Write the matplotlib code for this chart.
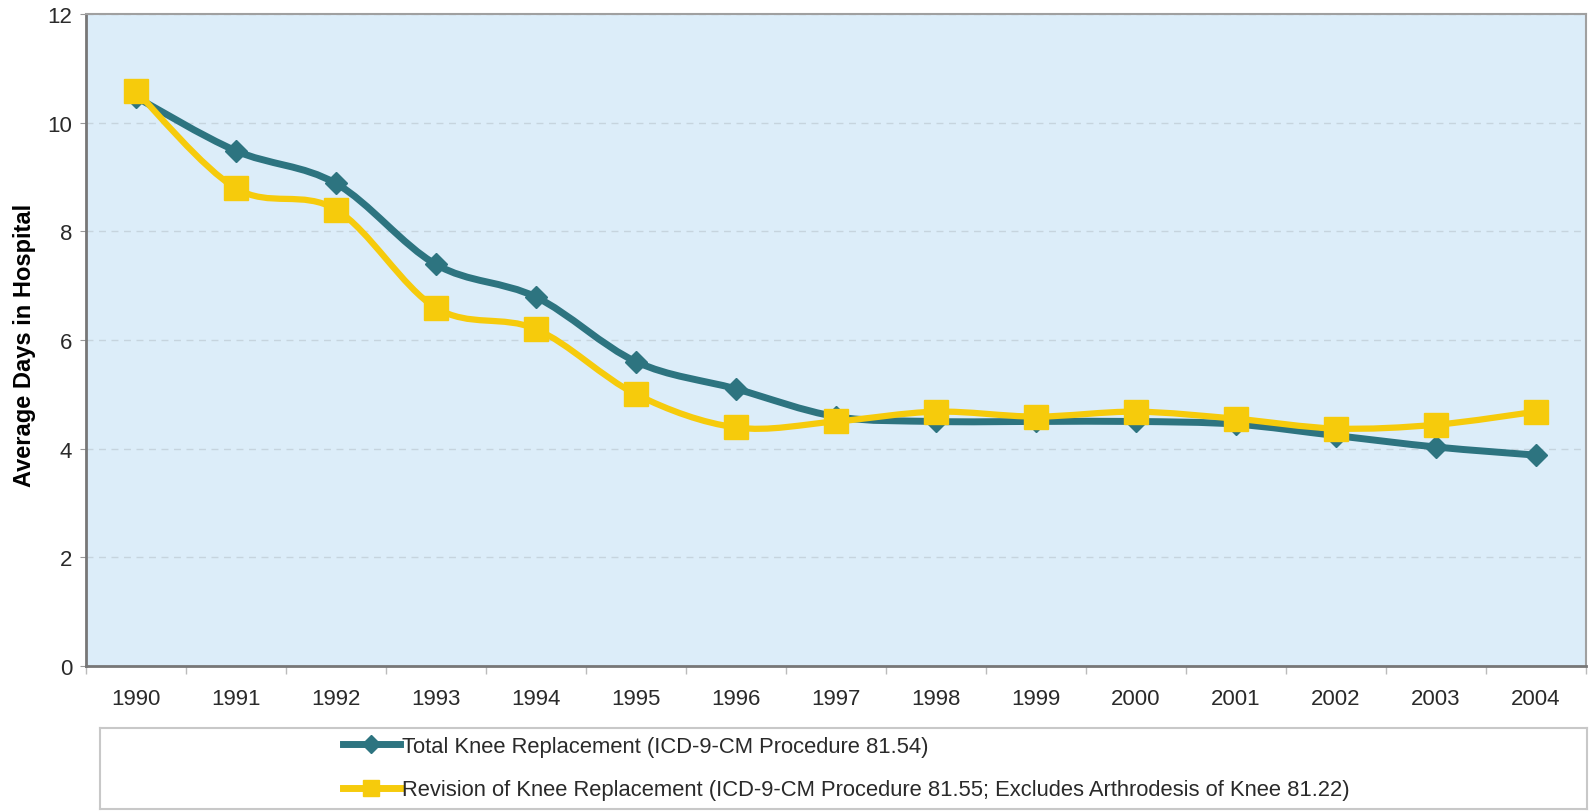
import matplotlib.pyplot as plt
import numpy as np
from matplotlib.path import Path
from matplotlib.patches import PathPatch
from matplotlib.lines import Line2D

years = ['1990', '1991', '1992', '1993', '1994', '1995', '1996', '1997',
         '1998', '1999', '2000', '2001', '2002', '2003', '2004']
total_knee = [10.47, 9.48, 8.88, 7.39, 6.79, 5.6, 5.1, 4.59,
              4.5, 4.5, 4.5, 4.45, 4.24, 4.03, 3.88]
revision_knee = [10.58, 8.79, 8.4, 6.59, 6.2, 5.0, 4.39, 4.5,
                 4.68, 4.59, 4.68, 4.55, 4.37, 4.44, 4.68]

total_label = 'Total Knee Replacement (ICD-9-CM Procedure 81.54)'
revision_label = ('Revision of Knee Replacement (ICD-9-CM Procedure 81.55; '
                  'Excludes Arthrodesis of Knee 81.22)')

teal = '#2d7480'
yellow = '#f6cb0c'
bg = '#dcedf9'

plt.rcParams['font.family'] = ['Liberation Sans', 'DejaVu Sans']


def smooth_path(xs, ys):
    # cubic bezier through every point (catmull-rom style), like a smoothed line
    xs = np.asarray(xs, float)
    ys = np.asarray(ys, float)
    pts = np.column_stack([xs, ys])
    verts = [pts[0]]
    codes = [Path.MOVETO]
    n = len(pts)
    for i in range(n - 1):
        p0 = pts[i - 1] if i > 0 else pts[i]
        p1 = pts[i]
        p2 = pts[i + 1]
        p3 = pts[i + 2] if i + 2 < n else pts[i + 1]
        c1 = p1 + (p2 - p0) / 6.0
        c2 = p2 - (p3 - p1) / 6.0
        verts += [c1, c2, p2]
        codes += [Path.CURVE4] * 3
    return Path(verts, codes)


fig = plt.figure(figsize=(15.89, 8.12), dpi=100)
ax = fig.add_axes([0.0541, 0.1786, 0.944, 0.803])
ax.set_facecolor(bg)

x = np.arange(len(years))

# smoothed series lines
for vals, col, lw in [(total_knee, teal, 5), (revision_knee, yellow, 4.5)]:
    ax.add_patch(PathPatch(smooth_path(x, vals), facecolor='none',
                           edgecolor=col, lw=lw, capstyle='round',
                           joinstyle='round', zorder=3))

ax.plot(x, total_knee, linestyle='none', marker='D', ms=11,
        color=teal, zorder=4)
ax.plot(x, revision_knee, linestyle='none', marker='s', ms=17,
        color=yellow, zorder=5)

ax.set_xlim(-0.5, len(years) - 0.5)
ax.set_ylim(0, 12)
ax.set_yticks(range(0, 13, 2))
ax.grid(axis='y', color='#c6d4de', linestyle=(0, (5, 4)), lw=1)
ax.set_axisbelow(True)

ax.set_xticks(x)
ax.set_xticklabels(years)
ax.set_xticks(np.arange(-0.5, len(years), 1), minor=True)
ax.tick_params(axis='x', which='major', length=0, pad=16,
               labelsize=16, labelcolor='#2a2a2a')
ax.tick_params(axis='x', which='minor', length=6, color='#bbbbbb', width=1)
ax.tick_params(axis='y', length=4, color='#999999', pad=6,
               labelsize=16, labelcolor='#2a2a2a')

fig.text(25 / 1589, 0.574, 'Average Days in Hospital', fontsize=17,
         fontweight='bold', rotation=90, ha='center', va='center')

for side in ['left', 'bottom']:
    ax.spines[side].set_color('#777777')
    ax.spines[side].set_linewidth(2)
for side in ['top', 'right']:
    ax.spines[side].set_color('#a0a0a0')
    ax.spines[side].set_linewidth(1.5)

# legend box underneath the plot
lax = fig.add_axes([0.0629, 0.003, 0.9358, 0.0998])
lax.set_xticks([])
lax.set_yticks([])
for s in lax.spines.values():
    s.set_color('#c8c8c8')
    s.set_linewidth(1.5)

handles = [
    Line2D([], [], color=teal, lw=5, marker='D', ms=9),
    Line2D([], [], color=yellow, lw=5, marker='s', ms=11),
]
lax.legend(handles, [total_label, revision_label], loc='center left',
           bbox_to_anchor=(0.1634, 0.5), frameon=False, fontsize=15.8,
           handlelength=2.6, handletextpad=0.1, labelspacing=1.02,
           borderpad=0, borderaxespad=0, labelcolor='#2a2a2a')

fig.savefig('out.png', dpi=100)
